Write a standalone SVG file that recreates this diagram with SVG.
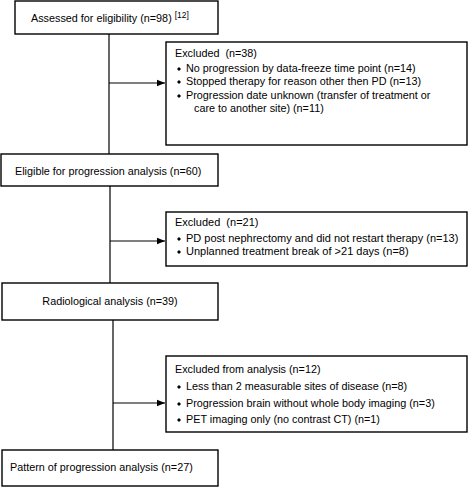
<svg xmlns="http://www.w3.org/2000/svg" xmlns:xlink="http://www.w3.org/1999/xlink" width="473" height="490" viewBox="0 0 473 490">
<defs>
<style>
.box{fill:#fff;stroke:#000;stroke-width:1.4}
.ln{fill:none;stroke:#000;stroke-width:1.2}
text{font-family:"Liberation Sans",Arial,sans-serif;font-size:10.8px;fill:#000}
.sup{font-size:8.5px}
.big{font-size:11px}
</style>
<marker id="ah" viewBox="0 0 10 10" refX="10" refY="5" markerWidth="8" markerHeight="8" markerUnits="userSpaceOnUse" orient="auto">
<path d="M0,1 L10,5 L0,9 z" fill="#000"/>
</marker>
<path id="bul" d="M0,-2 L2,0 L0,2 L-2,0 z" fill="#000"/>
</defs>
<rect width="473" height="490" fill="#fff"/>
<g id="connectors">
<path class="ln" d="M109,34 V154"/>
<path class="ln" d="M109,83 H165" marker-end="url(#ah)"/>
<path class="ln" d="M110,186 V283"/>
<path class="ln" d="M110,241 H165" marker-end="url(#ah)"/>
<path class="ln" d="M113,320 V450"/>
<path class="ln" d="M113,403 H165" marker-end="url(#ah)"/>
</g>
<g id="assessed">
<rect class="box" x="15" y="1" width="203" height="33"/>
<text x="31" y="22">Assessed for eligibility (n=98) <tspan class="sup" dy="-4">[12]</tspan></text>
</g>
<g id="excluded1">
<rect class="box" x="166" y="42" width="301" height="103"/>
<text x="175" y="57">Excluded&#160; (n=38)</text>
<use xlink:href="#bul" x="179" y="69"/>
<text x="186" y="72">No progression by data-freeze time point (n=14)</text>
<use xlink:href="#bul" x="179" y="82"/>
<text x="186" y="85">Stopped therapy for reason other then PD (n=13)</text>
<use xlink:href="#bul" x="179" y="96"/>
<text x="186" y="99">Progression date unknown (transfer of treatment or</text>
<text x="194" y="112">care to another site) (n=11)</text>
</g>
<g id="eligible">
<rect class="box" x="1" y="154" width="217" height="32"/>
<text x="15" y="175">Eligible for progression analysis (n=60)</text>
</g>
<g id="excluded2">
<rect class="box" x="166" y="212" width="301" height="54"/>
<text class="big" x="175" y="226">Excluded&#160; (n=21)</text>
<use xlink:href="#bul" x="179" y="239"/>
<text class="big" x="186" y="242">PD post nephrectomy and did not restart therapy (n=13)</text>
<use xlink:href="#bul" x="179" y="252"/>
<text class="big" x="186" y="255">Unplanned treatment break of &gt;21 days (n=8)</text>
</g>
<g id="radiological">
<rect class="box" x="2" y="283" width="216" height="37"/>
<text x="110" y="305" text-anchor="middle">Radiological analysis (n=39)</text>
</g>
<g id="excluded3">
<rect class="box" x="166" y="356" width="301" height="76"/>
<text x="175" y="373">Excluded from analysis (n=12)</text>
<use xlink:href="#bul" x="179" y="387"/>
<text x="186" y="390">Less than 2 measurable sites of disease (n=8)</text>
<use xlink:href="#bul" x="179" y="404"/>
<text x="186" y="407">Progression brain without whole body imaging (n=3)</text>
<use xlink:href="#bul" x="179" y="420"/>
<text x="186" y="423">PET imaging only (no contrast CT) (n=1)</text>
</g>
<g id="pattern">
<rect class="box" x="2" y="450" width="216" height="36"/>
<text x="10" y="471">Pattern of progression analysis (n=27)</text>
</g>
</svg>
